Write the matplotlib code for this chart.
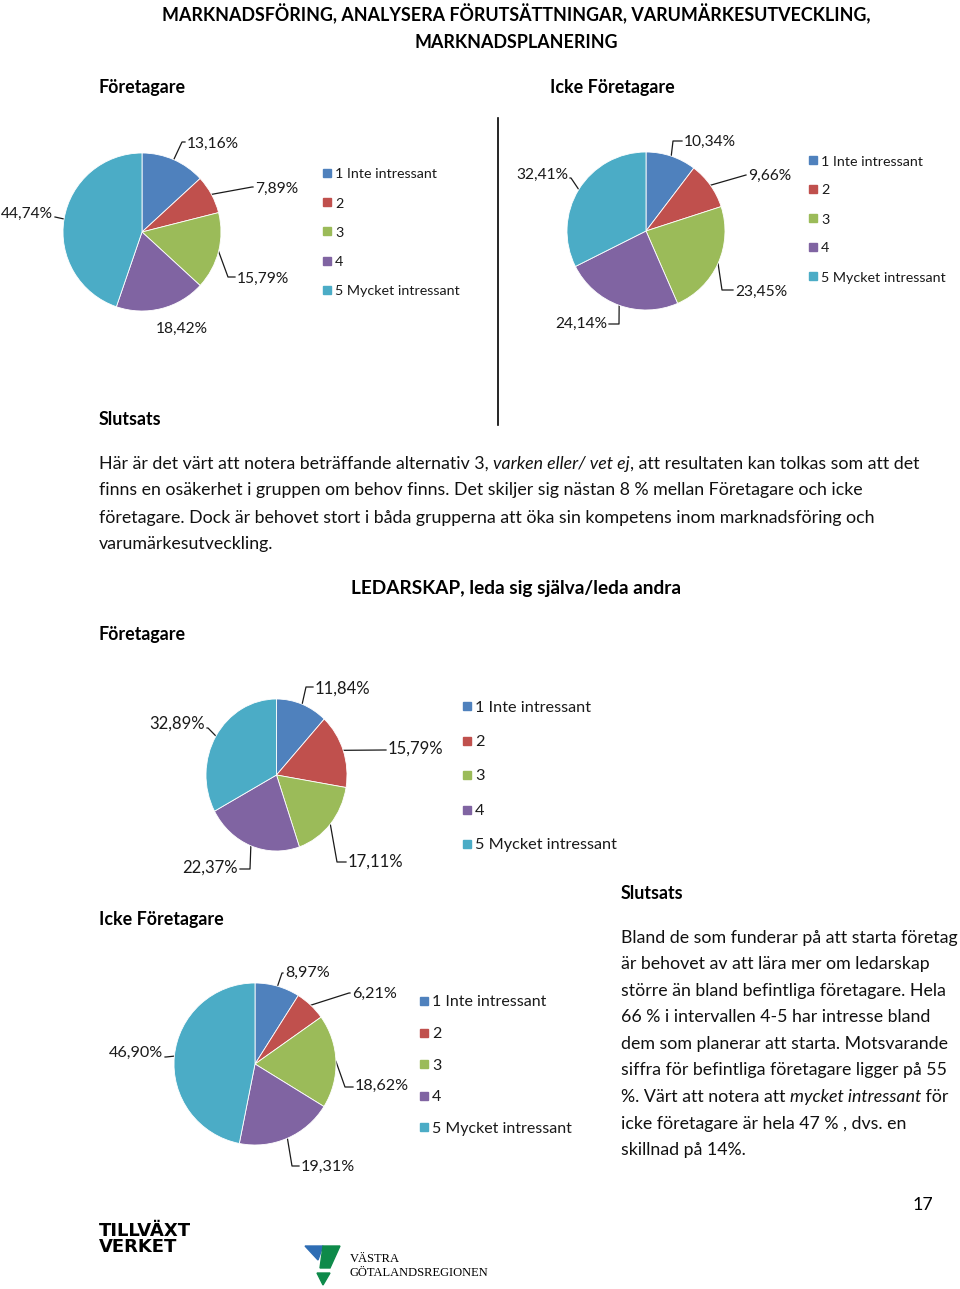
import numpy as np
import matplotlib.pyplot as plt
from matplotlib.patches import Rectangle, Polygon

W, H = 960, 1289
plt.rcParams['font.family'] = ['Lato', 'DejaVu Sans']

# data
categories = ['1 Inte intressant', '2', '3', '4', '5 Mycket intressant']
colors = ['#4F81BD', '#C0504D', '#9BBB59', '#8064A2', '#4BACC6']

mark_ftg = [13.16, 7.89, 15.79, 18.42, 44.74]
mark_icke = [10.34, 9.66, 23.45, 24.14, 32.41]
led_ftg = [11.84, 15.79, 17.11, 22.37, 32.89]
led_icke = [8.97, 6.21, 18.62, 19.31, 46.90]

fig = plt.figure(figsize=(W / 100, H / 100), dpi=100)
bg = fig.add_axes([0, 0, 1, 1])
bg.set_xlim(0, W)
bg.set_ylim(H, 0)
bg.axis('off')

BODY = 12.8
HEAD = 12.9
INK = '#1a1a1a'
DY = 1.5  # va='center' sits a bit high for Lato


def txt(x, y, s, **kw):
    kw.setdefault('va', 'center')
    return bg.text(x, y + DY, s, **kw)


def pie_block(values, cx, cy, rx, ry, label_pos, leg_x, leg_y, leg_dy, fs_lab, fs_leg):
    ax = fig.add_axes([(cx - rx) / W, 1 - (cy + ry) / H, 2 * rx / W, 2 * ry / H])
    wedges, _ = ax.pie(values, colors=colors, startangle=90, counterclock=False,
                       wedgeprops=dict(edgecolor='white', linewidth=0.6))
    ax.set_aspect('auto')
    ax.set_xlim(-1, 1)
    ax.set_ylim(-1, 1)
    ax.axis('off')
    for w in wedges:
        w.set_clip_on(False)
    # labels with leader lines
    for w, v, (tx, ty, ha, knee) in zip(wedges, values, label_pos):
        lab = ('%.2f' % v).replace('.', ',') + '%'
        txt(tx, ty, lab, fontsize=fs_lab, ha=ha, color=INK)
        if knee is None:
            continue
        a = np.deg2rad((w.theta1 + w.theta2) / 2)
        ex, ey = cx + rx * np.cos(a), cy - ry * np.sin(a)
        kx, ky = knee
        endx = tx - 2 if ha == 'left' else tx + 2
        bg.plot([ex, kx, endx], [ey, ky, ky], color=INK, lw=0.9)
    # legend
    for i, (c, name) in enumerate(zip(colors, categories)):
        y = leg_y + i * leg_dy
        bg.add_patch(Rectangle((leg_x, y - 4), 8, 8, color=c))
        txt(leg_x + 12, y, name, fontsize=fs_leg, color=INK)


def rich(x, y, parts, size):
    r = fig.canvas.get_renderer()
    for s, style in parts:
        t = txt(x, y, s, fontsize=size, style=style, color='#111111')
        x += t.get_window_extent(r).width


# titles
txt(516, 12, 'MARKNADSFÖRING, ANALYSERA FÖRUTSÄTTNINGAR, VARUMÄRKESUTVECKLING,',
    fontsize=HEAD, fontweight='bold', ha='center')
txt(516, 41, 'MARKNADSPLANERING', fontsize=HEAD, fontweight='bold', ha='center')
txt(99, 86, 'Företagare', fontsize=HEAD, fontweight='bold')
txt(550, 86, 'Icke Företagare', fontsize=HEAD, fontweight='bold')
bg.plot([498, 498], [118, 425], color='black', lw=1.2)

pie_block(mark_ftg, 142, 232, 79, 79,
          [(187, 142, 'left', (182, 142)), (255, 187, 'left', (252, 187)),
           (237, 277, 'left', (228, 277)), (182, 327, 'center', None),
           (53, 212, 'right', (55, 217))],
          323, 173, 29.2, 11.2, 10.3)
pie_block(mark_icke, 646, 231, 79, 79,
          [(684, 140, 'left', (673, 141)), (748, 174, 'left', (746, 175)),
           (735, 290, 'left', (722, 290)), (607, 322, 'right', (619, 324)),
           (568, 173, 'right', (571, 178))],
          809, 160, 29, 11.2, 10.3)

txt(99, 418, 'Slutsats', fontsize=HEAD, fontweight='bold')
rich(99, 462, [('Här är det värt att notera beträffande alternativ 3, ', 'normal'),
               ('varken eller/ vet ej', 'italic'),
               (', att resultaten kan tolkas som att det', 'normal')], BODY)
rich(99, 489, [('finns en osäkerhet i gruppen om behov finns. Det skiljer sig nästan 8 % mellan Företagare och icke', 'normal')], BODY)
rich(99, 516, [('företagare. Dock är behovet stort i båda grupperna att öka sin kompetens inom marknadsföring och', 'normal')], BODY)
rich(99, 542, [('varumärkesutveckling.', 'normal')], BODY)

txt(516, 587, 'LEDARSKAP, leda sig själva/leda andra', fontsize=13.7,
    fontweight='bold', ha='center')
txt(99, 633, 'Företagare', fontsize=HEAD, fontweight='bold')

pie_block(led_ftg, 276.5, 775, 70.5, 76,
          [(315, 687, 'left', (306, 687)), (388, 747, 'left', (385, 750)),
           (348, 860, 'left', (337, 862)), (238, 866, 'right', (250, 869)),
           (205, 722, 'right', (208, 728))],
          463, 706, 34.5, 12, 11.7)

txt(621, 892, 'Slutsats', fontsize=HEAD, fontweight='bold')
txt(99, 918, 'Icke Företagare', fontsize=HEAD, fontweight='bold')

pie_block(led_icke, 255, 1064, 81, 81,
          [(285, 971, 'left', (282, 973)), (352, 992, 'left', (349, 993)),
           (355, 1084, 'left', (345, 1087)), (301, 1165, 'left', (292, 1166)),
           (163, 1051, 'right', (166, 1057))],
          420, 1001, 31.5, 11.6, 11.5)

right_lines = [
    [('Bland de som funderar på att starta företag', 'normal')],
    [('är behovet av att lära mer om ledarskap', 'normal')],
    [('större än bland befintliga företagare. Hela', 'normal')],
    [('66 % i intervallen 4-5 har intresse bland', 'normal')],
    [('dem som planerar att starta. Motsvarande', 'normal')],
    [('siffra för befintliga företagare ligger på 55', 'normal')],
    [('%. Värt att notera att ', 'normal'), ('mycket intressant', 'italic'), (' för', 'normal')],
    [('icke företagare är hela 47 % , dvs. en', 'normal')],
    [('skillnad på 14%.', 'normal')],
]
for i, parts in enumerate(right_lines):
    rich(621, 936 + i * 26.6, parts, BODY)

txt(923, 1204, '17', fontsize=BODY, ha='center')

# logos
txt(99, 1229, 'TILLVÄXT', fontsize=13, fontweight='heavy', family='DejaVu Sans')
txt(99, 1245, 'VERKET', fontsize=13, fontweight='heavy', family='DejaVu Sans')
bg.add_patch(Polygon([[305, 1246], [323, 1246], [318, 1260]], color='#2E6DB4'))
bg.add_patch(Polygon([[323, 1246], [340, 1246], [330, 1268], [320, 1268]], color='#0E8A4A'))
bg.add_patch(Polygon([[317, 1273], [330, 1273], [323, 1285]], color='#0E8A4A'))
txt(350, 1258, 'VÄSTRA', fontsize=9, family='Liberation Serif')
txt(350, 1271, 'GÖTALANDSREGIONEN', fontsize=9, family='Liberation Serif')

fig.savefig('out.png', dpi=100)
